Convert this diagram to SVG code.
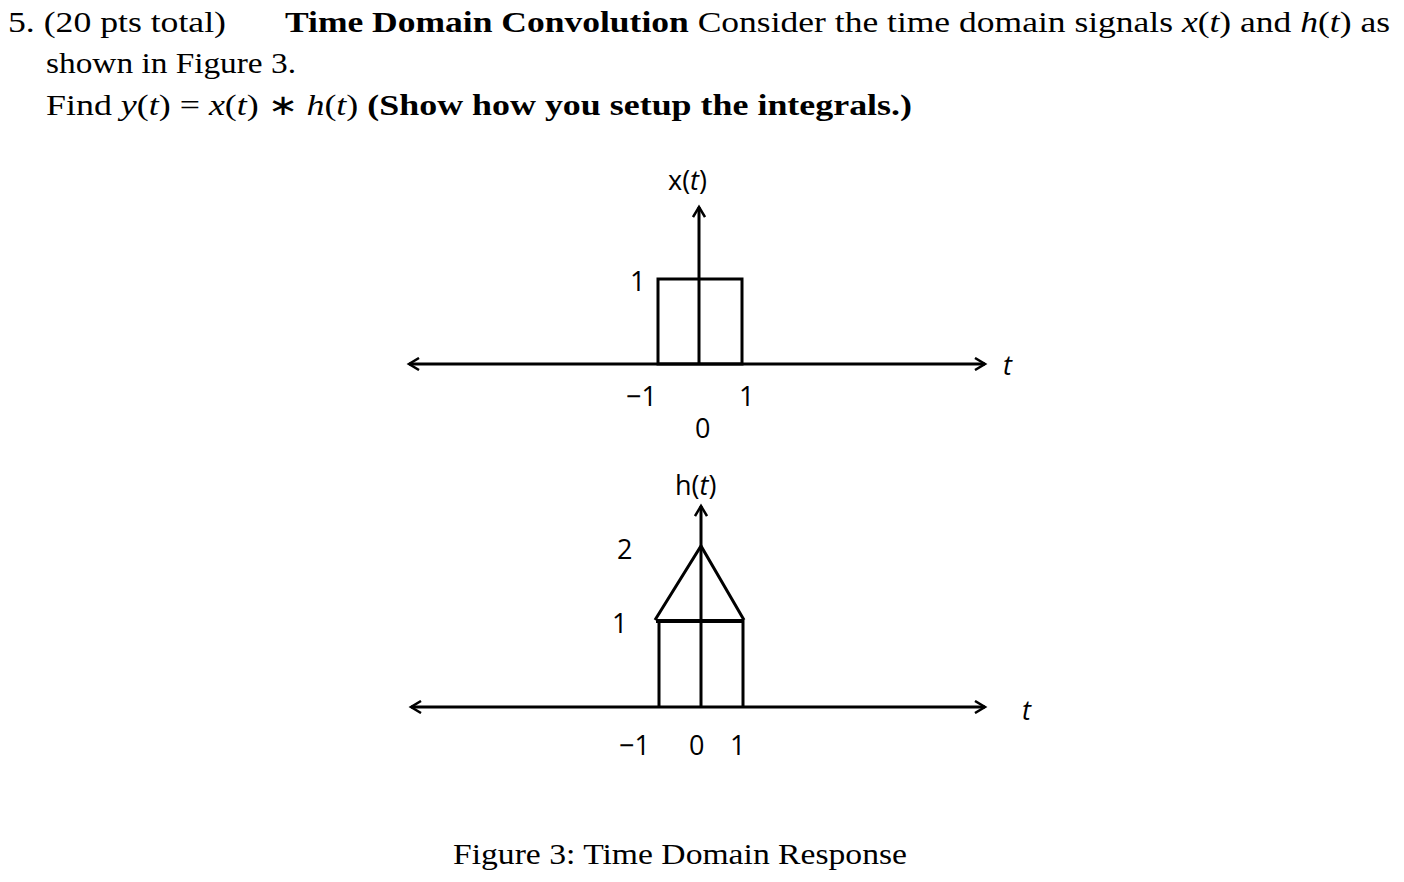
<svg xmlns="http://www.w3.org/2000/svg" width="1404" height="882" viewBox="0 0 1404 882">
<style>
.s{font-family:"Liberation Serif",serif;font-size:29px;fill:#000}
.g{font-family:"Open Sans","DejaVu Sans",sans-serif;font-size:27px;fill:#000}
.l{stroke:#000;stroke-width:3;fill:none}
</style>
<defs><marker id="a" markerWidth="14" markerHeight="14" refX="11" refY="7" orient="auto-start-reverse" markerUnits="userSpaceOnUse"><path d="M1,1 L11,7 L1,13" fill="none" stroke="#000" stroke-width="2.5"/></marker></defs>
<rect width="1404" height="882" fill="#fff"/>
<g id="header">
<text class="s" x="8" y="32" textLength="218" lengthAdjust="spacingAndGlyphs">5. (20 pts total)</text>
<text class="s" x="285" y="32" textLength="1105" lengthAdjust="spacingAndGlyphs"><tspan font-weight="bold">Time Domain Convolution</tspan> Consider the time domain signals <tspan font-style="italic">x</tspan>(<tspan font-style="italic">t</tspan>) and <tspan font-style="italic">h</tspan>(<tspan font-style="italic">t</tspan>) as</text>
<text class="s" x="46" y="73" textLength="250" lengthAdjust="spacingAndGlyphs">shown in Figure 3.</text>
<text class="s" x="46" y="115" textLength="866" lengthAdjust="spacingAndGlyphs">Find <tspan font-style="italic">y</tspan>(<tspan font-style="italic">t</tspan>) = <tspan font-style="italic">x</tspan>(<tspan font-style="italic">t</tspan>) ∗ <tspan font-style="italic">h</tspan>(<tspan font-style="italic">t</tspan>) <tspan font-weight="bold">(Show how you setup the integrals.)</tspan></text>
</g>
<g id="connectors">
<line class="l" x1="409" y1="364" x2="985" y2="364" marker-start="url(#a)" marker-end="url(#a)"/>
<line class="l" x1="699" y1="363" x2="699" y2="207" marker-end="url(#a)"/>
<line class="l" x1="411" y1="707" x2="985" y2="707" marker-start="url(#a)" marker-end="url(#a)"/>
<line class="l" x1="701" y1="707" x2="701" y2="506" marker-end="url(#a)"/>
</g>
<g id="xsig">
<rect class="l" x="658" y="279" width="84" height="85"/>
<text class="g" x="630" y="291">1</text>
<text class="g" x="626" y="406">−1</text>
<text class="g" x="739" y="406">1</text>
<text class="g" x="695" y="438">0</text>
<text class="g" x="668" y="190">x(<tspan font-style="italic">t</tspan>)</text>
<text class="g" x="1003" y="375" font-style="italic">t</text>
</g>
<g id="hsig">
<polyline class="l" points="659,707 659,621 743,621 743,707"/>
<line x1="656" y1="621" x2="743" y2="621" stroke="#000" stroke-width="4"/>
<polyline class="l" points="655,620 701,546 744,620"/>
<text class="g" x="617" y="559">2</text>
<text class="g" x="612" y="633">1</text>
<text class="g" x="619" y="755">−1</text>
<text class="g" x="689" y="755">0</text>
<text class="g" x="730" y="755">1</text>
<text class="g" x="675" y="495">h(<tspan font-style="italic">t</tspan>)</text>
<text class="g" x="1022" y="720" font-style="italic">t</text>
</g>
<text class="s" x="453" y="864" textLength="454" lengthAdjust="spacingAndGlyphs">Figure 3: Time Domain Response</text>
</svg>
